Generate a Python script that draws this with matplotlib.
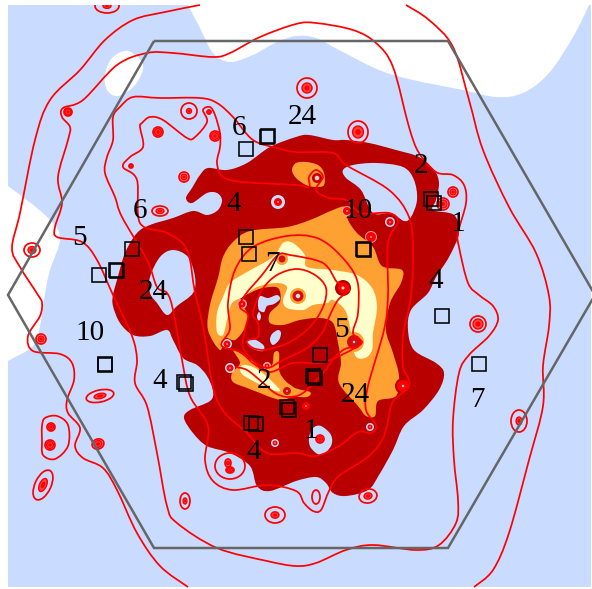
import numpy as np
import matplotlib
matplotlib.use("Agg")
import matplotlib.pyplot as plt
from matplotlib.path import Path
from matplotlib.patches import PathPatch, Ellipse, Rectangle

BLUE = "#C9DCFF"; DARK = "#B80000"; ORANGE = "#FFA033"; CREAM = "#FFFFCC"; RED = "#FF0000"

# ---- map frame and hexagon (pixel-like map coordinates)
map_x = [8, 591]; map_y = [5, 587]
hexagon = [(154, 41), (448, 41), (595, 295), (448, 548), (154, 548), (8, 295)]

white_top = [(178, -15), (188, 5), (200, 28), (213, 53), (230, 62), (253, 55), (275, 43), (296, 36), (316, 38), (339, 50), (379, 70), (413, 80), (463, 90), (496, 97), (523, 93), (549, 73), (573, 37), (589, 5), (600, -20), (400, -30)]
white_blob = [(105, 75), (112, 58), (128, 51), (143, 65), (135, 85), (118, 96), (107, 90)]
white_left = [(-15, 170), (8, 186), (45, 215), (60, 237), (50, 270), (45, 293), (40, 326), (33, 346), (8, 361), (-15, 375), (-30, 270)]

dark_main = [(186, 198), (192, 188), (200, 175), (208, 168), (227, 170), (247, 163), (270, 147), (296, 137), (309, 135), (333, 140), (346, 140), (369, 143), (396, 150), (419, 157), (434, 170), (439, 183), (436, 200), (433, 210), (454, 215), (459, 233), (449, 257), (436, 277), (428, 293), (411, 310), (408, 330), (414, 350), (436, 363), (444, 373), (439, 390), (423, 410), (404, 426), (393, 450), (379, 475), (368, 490), (346, 496), (333, 493), (326, 483), (316, 477), (296, 481), (270, 491), (257, 486), (250, 466), (230, 453), (207, 446), (193, 433), (184, 418), (190, 410), (210, 401), (213, 391), (207, 376), (197, 365), (183, 358), (173, 340), (167, 330), (150, 336), (133, 335), (120, 323), (113, 306), (113, 295), (117, 280), (125, 253), (137, 233), (150, 225), (173, 218), (193, 211), (207, 215), (218, 210), (222, 200), (217, 193), (207, 193), (192, 203)]
hole_left = [(150, 277), (160, 257), (173, 250), (188, 257), (195, 277), (193, 293), (177, 306), (167, 315), (157, 303), (150, 293)]
hole_right = [(343, 170), (353, 165), (376, 163), (403, 167), (414, 180), (417, 200), (411, 217), (404, 221), (391, 213), (373, 213), (361, 190), (346, 178)]
hole_bottom = [(309, 438), (313, 428), (321, 426), (331, 435), (331, 446), (321, 455), (311, 448)]
hole_c1 = [(258, 303), (260, 296), (268, 298), (277, 295), (280, 299), (274, 304), (267, 306), (264, 312), (259, 310)]
hole_c2 = [(270, 340), (272, 334), (278, 330), (281, 333), (279, 340), (273, 345)]
hole_c3 = [(247, 342), (252, 339), (258, 341), (264, 346), (263, 351), (256, 350), (250, 347)]
hole_c4 = [(257, 316), (259, 312), (261, 316), (260, 320), (258, 320)]

orange_main = [(208, 330), (210, 305), (218, 278), (223, 257), (233, 242), (250, 231), (287, 227), (310, 220), (333, 210), (345, 207), (348, 220), (357, 233), (373, 247), (382, 266), (402, 270), (401, 283), (390, 303), (386, 330), (393, 353), (399, 376), (396, 396), (378, 401), (375, 416), (366, 416), (358, 406), (339, 383), (341, 363), (338, 343), (333, 323), (320, 318), (300, 320), (283, 325), (270, 323), (270, 313), (280, 302), (278, 288), (263, 288), (250, 293), (240, 300), (248, 315), (245, 328), (235, 340), (225, 338), (220, 350)]
orange_low = [(233, 350), (243, 355), (255, 363), (262, 370), (272, 365), (274, 353), (279, 353), (280, 373), (293, 387), (310, 392), (307, 397), (293, 397), (282, 400), (270, 397), (260, 393), (247, 388), (233, 382), (232, 373), (240, 363)]
orange_top = [(296, 163), (306, 162), (318, 165), (324, 173), (324, 185), (316, 187), (306, 185), (296, 178), (292, 170)]
cream_main = [(223, 297), (230, 283), (247, 272), (273, 257), (283, 243), (293, 243), (305, 255), (307, 267), (333, 270), (357, 275), (372, 288), (377, 307), (373, 333), (372, 350), (365, 358), (355, 355), (350, 327), (345, 310), (333, 300), (327, 303), (313, 305), (303, 310), (287, 308), (283, 300), (287, 287), (277, 283), (257, 287), (243, 297), (232, 303), (227, 320), (223, 335), (217, 332), (217, 313)]
cream_low = [(243, 365), (253, 367), (265, 375), (280, 390), (272, 390), (257, 383), (243, 375), (240, 369)]

# ---- red contour lines
line_outer_left = [(200, 5), (165, 12), (133, 20), (105, 40), (80, 70), (50, 100), (35, 140), (20, 213), (12, 248), (20, 267), (38, 295), (42, 303), (40, 316), (28, 336), (33, 351), (60, 354), (72, 363), (74, 380), (67, 400), (68, 413), (80, 428), (75, 446), (83, 458), (103, 468), (117, 490), (137, 533), (160, 566), (188, 587)]
line_outer_right = [(406, 5), (429, 20), (453, 47), (469, 100), (483, 150), (509, 207), (536, 253), (549, 296), (549, 326), (543, 366), (543, 406), (529, 460), (509, 533), (493, 570), (474, 587)]
loop_big = [(296, 24), (260, 37), (230, 53), (213, 57), (173, 53), (147, 53), (117, 65), (83, 100), (63, 108), (62, 117), (70, 127), (68, 140), (58, 177), (62, 203), (55, 227), (57, 237), (82, 242), (97, 260), (113, 295), (132, 336), (137, 360), (135, 383), (147, 406), (157, 453), (167, 506), (177, 523), (217, 548), (267, 561), (296, 566), (316, 563), (346, 550), (373, 545), (416, 550), (439, 545), (456, 523), (458, 500), (454, 460), (453, 420), (459, 373), (469, 355), (489, 336), (498, 320), (493, 306), (479, 295), (468, 283), (459, 247), (458, 233), (466, 203), (464, 185), (453, 175), (436, 172), (419, 153), (409, 127), (393, 67), (376, 43), (353, 30), (316, 23)]
loop_mid = [(120, 107), (133, 97), (160, 98), (200, 98), (217, 103), (233, 117), (253, 140), (277, 148), (296, 152), (333, 153), (346, 165), (389, 190), (409, 217), (413, 250), (411, 296), (403, 336), (403, 366), (409, 380), (408, 388), (396, 398), (391, 406), (384, 436), (369, 456), (339, 476), (329, 491), (321, 510), (313, 511), (304, 503), (296, 491), (267, 485), (233, 490), (213, 481), (205, 460), (208, 426), (190, 396), (182, 360), (173, 310), (167, 293), (157, 287), (147, 260), (122, 217), (115, 197), (105, 173), (107, 157), (113, 140), (113, 117)]
loop_wobble = [(142, 123), (150, 117), (163, 120), (187, 138), (195, 137), (207, 122), (203, 110), (210, 107), (215, 115), (220, 133), (220, 147), (217, 163), (223, 177), (243, 182), (296, 185), (309, 187), (309, 177), (316, 170), (323, 177), (316, 190), (329, 198), (346, 200), (361, 213), (389, 213), (398, 222), (388, 243), (388, 296), (384, 330), (368, 386), (366, 410), (376, 425), (371, 433), (358, 432), (339, 446), (316, 456), (296, 453), (267, 453), (247, 433), (217, 400), (203, 326), (195, 293), (187, 250), (167, 233), (140, 223), (137, 180), (123, 167), (130, 157), (143, 147), (140, 127)]
loop_inner1 = [(248, 340), (258, 337), (258, 323), (253, 313), (262, 290), (277, 275), (297, 269), (315, 275), (326, 288), (323, 307), (310, 327), (290, 342), (273, 348), (263, 350), (253, 348), (247, 343)]
loop_inner2 = [(240, 307), (245, 295), (262, 275), (278, 255), (290, 255), (323, 263), (337, 282), (345, 284), (349, 290), (338, 300), (330, 315), (322, 333), (307, 348), (283, 360), (267, 368), (253, 360), (243, 347), (245, 330), (248, 315)]
loop_inner3 = [(225, 338), (230, 328), (228, 303), (235, 270), (253, 247), (287, 236), (317, 238), (340, 255), (357, 280), (358, 313), (353, 333), (362, 342), (353, 349), (337, 357), (320, 363), (293, 363), (270, 372), (253, 363), (240, 352), (223, 347), (222, 342)]
line_lower = [(235, 367), (247, 370), (262, 382), (275, 393), (288, 397), (303, 393), (323, 373), (335, 357), (345, 349), (355, 347)]
loop_pair = [(42, 440), (42, 426), (45, 418), (57, 416), (68, 425), (68, 446), (55, 459), (43, 455)]

# ---- isolated contour rings: x, y, outer rx, ry, angle, inner radius
ring_x = [107, 68, 189, 158, 215, 184, 160, 32, 307, 358, 453, 443, 41, 100, 51, 50, 98, 43, 185, 275, 230, 228, 230, 478, 519, 368, 316, 320, 131, 209]
ring_y = [6, 112, 111, 132, 136, 177, 211, 250, 88, 132, 192, 204, 339, 396, 427, 445, 444, 485, 501, 515, 466, 463, 470, 324, 421, 496, 497, 439, 166, 112]
ring_rx = [12, 4, 8, 5, 5, 5, 8, 8, 10, 10, 5, 6, 5, 14, 4, 5, 6, 16, 5, 10, 15, 3, 4, 8, 8, 9, 4, 4, 2, 2]
ring_ry = [7, 4, 8, 5, 5, 5, 5, 7, 10, 11, 5, 6, 5, 6, 4, 5, 5, 8, 8, 8, 13, 4, 3, 8, 11, 7, 7, 4, 2, 2]
ring_ang = [0, 0, 0, 0, 0, 0, 0, 0, 0, 0, 0, 0, 0, -12, 0, 0, -20, -65, 0, 0, 0, 0, 0, 0, 0, -10, 0, 0, 0, 0]
ring_in = [4, 3, 2.5, 3.5, 3.5, 3, 4, 4, 5, 6, 3, 4, 3, 6, 2.5, 3.5, 4, 7, 3, 4, 0, 2, 2.5, 5, 4, 4, 0, 2.5, 1.5, 1.5]

# ---- spots inside coloured zones: x, y, halo radius, halo colour, core radius
halo_x = [278, 390, 371, 230, 227, 242, 267, 347, 317, 298, 282, 287, 354, 403, 343, 306, 370, 275]
halo_y = [202, 222, 237, 368, 344, 304, 366, 211, 178, 296, 259, 391, 342, 386, 288, 406, 427, 443]
halo_r = [7, 5, 6, 5, 5, 5, 4, 5, 5, 8, 6, 7, 10, 8, 8, 5, 4, 4]
halo_c = [BLUE, BLUE, "#E8A0A0", BLUE, BLUE, "#E8A0A0", "#F0B0B0", "#E8A0A0", DARK, ORANGE, ORANGE, ORANGE, ORANGE, DARK, DARK, DARK, BLUE, BLUE]
halo_core = [4, 3.5, 5, 3.5, 3.5, 3.5, 2.5, 4, 3, 5.5, 3.5, 4, 7, 6, 5, 4, 2.5, 2.5]
halo_eye = [0.8, 0.8, 0.8, 0.8, 0.8, 0.8, 0.7, 0.8, 2.2, 2.2, 0, 0.8, 1.2, 1.2, 1.5, 0.8, 0.7, 0.7]

# ---- squares
square_x = [246, 267, 268, 132, 99, 117, 116, 246, 249, 431, 434, 363, 364, 105, 105, 184, 186, 251, 256, 287, 289, 442, 479, 320, 313, 315]
square_y = [149, 137, 136, 249, 275, 271, 270, 237, 254, 199, 203, 249, 250, 364, 365, 382, 384, 423, 424, 407, 410, 316, 364, 355, 376, 378]

# ---- labels
label_text = ["24", "6", "2", "6", "4", "10", "1", "5", "7", "4", "24", "5", "10", "4", "2", "24", "7", "1", "4"]
label_x = [302, 239, 421, 140, 234, 358, 458, 79, 272, 436, 153, 341, 90, 160, 264, 355, 477, 311, 254]
label_y = [117, 128, 166, 211, 204, 211, 224, 238, 264, 281, 292, 330, 333, 381, 381, 395, 400, 431, 452]


def smooth(points, closed=True):
    """Cubic Bezier path passing through the given outline vertices."""
    p = np.asarray(points, float)
    n = len(p)
    idx = range(n) if closed else range(n - 1)
    verts = [p[0]]
    codes = [Path.MOVETO]
    for i in idx:
        if closed:
            a, b, c, d = p[(i - 1) % n], p[i], p[(i + 1) % n], p[(i + 2) % n]
        else:
            a, b, c, d = p[max(i - 1, 0)], p[i], p[i + 1], p[min(i + 2, n - 1)]
        verts += [b + (c - a) / 6, c - (d - b) / 6, c]
        codes += [Path.CURVE4] * 3
    return Path(verts, codes)


fig = plt.figure(figsize=(5.92, 5.89), dpi=100)
ax = fig.add_axes([0, 0, 1, 1])
ax.set_xlim(0, 592); ax.set_ylim(589, 0); ax.axis("off")

frame = Rectangle((map_x[0], map_y[0]), map_x[1] - map_x[0], map_y[1] - map_y[0], fc=BLUE, ec="none", zorder=1)
ax.add_patch(frame)


def fill(points, color, z):
    ax.add_patch(PathPatch(smooth(points), fc=color, ec="none", zorder=z))


for shape in (white_top, white_blob, white_left):
    fill(shape, "white", 2)
fill(dark_main, DARK, 3)
for shape in (hole_left, hole_right, hole_bottom):
    fill(shape, BLUE, 4)
fill(orange_main, ORANGE, 5)
fill(orange_low, ORANGE, 5)
fill(orange_top, ORANGE, 5)
fill(cream_main, CREAM, 6)
fill(cream_low, CREAM, 6)
for shape in (hole_c1, hole_c2, hole_c3, hole_c4):
    fill(shape, BLUE, 7)

for x, y, r, c, core, eye in zip(halo_x, halo_y, halo_r, halo_c, halo_core, halo_eye):
    ax.add_patch(Ellipse((x, y), 2 * r, 2 * r, fc=c, ec="none", zorder=8))
    ax.add_patch(Ellipse((x, y), 2 * core, 2 * core, fc=RED if c != ORANGE else "#D01010", ec="none", zorder=9))
    if eye:
        ax.add_patch(Ellipse((x, y), 2 * eye, 2 * eye, fc="#FFD8E0", ec="none", zorder=10))

LW = 1.25
for pts in (line_outer_left, line_outer_right, line_lower):
    ax.add_patch(PathPatch(smooth(pts, closed=False), fc="none", ec=RED, lw=LW, zorder=11))
for pts in (loop_big, loop_mid, loop_wobble, loop_inner1, loop_inner2, loop_inner3, loop_pair):
    ax.add_patch(PathPatch(smooth(pts), fc="none", ec=RED, lw=LW, zorder=11))

for x, y, rx, ry, ang, inner in zip(ring_x, ring_y, ring_rx, ring_ry, ring_ang, ring_in):
    e = Ellipse((x, y), 2 * rx, 2 * ry, angle=ang, fc="none", ec=RED, lw=LW, zorder=11)
    ax.add_patch(e)
    e.set_clip_path(frame)
    if inner:
        k = inner / max(rx, ry)
        c = Ellipse((x, y), 2 * rx * k, 2 * ry * k, angle=ang, fc="#FF4040", ec=RED, lw=1.0, zorder=11)
        ax.add_patch(c); c.set_clip_path(frame)
        c2 = Ellipse((x, y), rx * k, ry * k, angle=ang, fc=RED, ec="none", zorder=11)
        ax.add_patch(c2); c2.set_clip_path(frame)

hx = [p[0] for p in hexagon]; hy = [p[1] for p in hexagon]
ax.add_patch(plt.Polygon(list(zip(hx, hy)), closed=True, fc="none", ec="#666666", lw=1.8, zorder=12, joinstyle="miter"))

ax.plot(square_x, square_y, ls="none", marker="s", ms=9.8, mfc="none", mec="black", mew=1.15, zorder=13)

for t, x, y in zip(label_text, label_x, label_y):
    ax.text(x, y, t, family="Liberation Serif", fontsize=21, color="black", ha="center", va="center", zorder=14)

fig.savefig("out.png", dpi=100)
